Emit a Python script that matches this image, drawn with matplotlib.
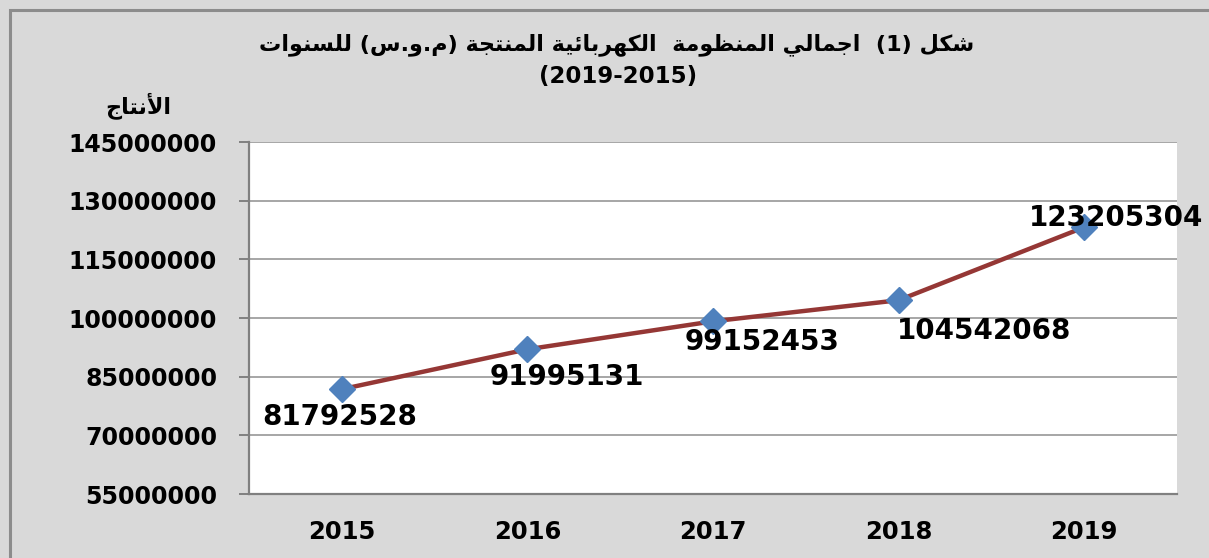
import matplotlib
matplotlib.use("Agg")
import matplotlib.pyplot as plt
from matplotlib.patches import Rectangle

# ---------------- data ----------------
years = ["2015", "2016", "2017", "2018", "2019"]
production = [81792528, 91995131, 99152453, 104542068, 123205304]
y_ticks = [55000000, 70000000, 85000000, 100000000, 115000000, 130000000, 145000000]
title_words = ["شكل", "(1)", "اجمالي", "المنظومة", "الكهربائية", "المنتجة", "(م.و.س)", "للسنوات"]
title_line2 = "(2019-2015)"
y_label = "الأنتاج"

# ---------------- minimal Arabic shaping ----------------
FORMS = {  # isolated, final, initial, medial
    'ا': (0xFE8D, 0xFE8E, None, None),
    'أ': (0xFE83, 0xFE84, None, None),
    'ب': (0xFE8F, 0xFE90, 0xFE91, 0xFE92),
    'ت': (0xFE95, 0xFE96, 0xFE97, 0xFE98),
    'ج': (0xFE9D, 0xFE9E, 0xFE9F, 0xFEA0),
    'ر': (0xFEAD, 0xFEAE, None, None),
    'س': (0xFEB1, 0xFEB2, 0xFEB3, 0xFEB4),
    'ش': (0xFEB5, 0xFEB6, 0xFEB7, 0xFEB8),
    'ظ': (0xFEC5, 0xFEC6, 0xFEC7, 0xFEC8),
    'ك': (0xFED9, 0xFEDA, 0xFEDB, 0xFEDC),
    'ل': (0xFEDD, 0xFEDE, 0xFEDF, 0xFEE0),
    'م': (0xFEE1, 0xFEE2, 0xFEE3, 0xFEE4),
    'ن': (0xFEE5, 0xFEE6, 0xFEE7, 0xFEE8),
    'ه': (0xFEE9, 0xFEEA, 0xFEEB, 0xFEEC),
    'و': (0xFEED, 0xFEEE, None, None),
    'ي': (0xFEF1, 0xFEF2, 0xFEF3, 0xFEF4),
    'ة': (0xFE93, 0xFE94, None, None),
    'ئ': (0xFE89, 0xFE8A, 0xFE8B, 0xFE8C),
    'لا': (0xFEFB, 0xFEFC, None, None),
    'لأ': (0xFEF7, 0xFEF8, None, None),
}


def shape(word):
    units = []
    i = 0
    while i < len(word):
        if word[i] == 'ل' and i + 1 < len(word) and word[i + 1] in 'اأ':
            units.append('ل' + word[i + 1])
            i += 2
        else:
            units.append(word[i])
            i += 1
    out = []
    for k, u in enumerate(units):
        if u not in FORMS:
            out.append(u)
            continue
        iso, fin, ini, med = FORMS[u]
        prev = units[k - 1] if k > 0 else None
        nxt = units[k + 1] if k + 1 < len(units) else None
        joins_prev = prev is not None and prev in FORMS and FORMS[prev][2] is not None
        joins_next = nxt is not None and nxt in FORMS and ini is not None
        if joins_prev and joins_next:
            c = med
        elif joins_prev:
            c = fin
        elif joins_next:
            c = ini
        else:
            c = iso
        out.append(chr(c))
    return "".join(out)[::-1]


def visual_word(w):
    if w.startswith("(") and w.endswith(")"):
        inner = w[1:-1]
        if any(ch in FORMS for ch in inner):
            parts = inner.split(".")
            return "(" + ".".join(shape(p) for p in reversed(parts)) + ")"
        return w
    return shape(w)


vis = [visual_word(w) for w in reversed(title_words)]
title1 = (" ".join(vis[:4]) + "  " + vis[4] + " " + vis[5] + "  "
          + " ".join(vis[6:]))

# ---------------- figure ----------------
BG = "#d9d9d9"
fig = plt.figure(figsize=(12.09, 5.58), dpi=100, facecolor=BG)
W, H = 1209, 558
ax = fig.add_axes([249 / W, 1 - 494 / H, (1177 - 249) / W, (494 - 142) / H])
ax.set_facecolor("white")

x = list(range(len(years)))
ax.plot(x, production, color="#953735", lw=3.2, zorder=3,
        marker="D", markersize=13, markerfacecolor="#4f81bd",
        markeredgecolor="#4f81bd", solid_capstyle="round")

ax.set_xlim(-0.5, len(years) - 0.5)
ax.set_ylim(y_ticks[0], y_ticks[-1])
ax.set_yticks(y_ticks)
ax.set_yticklabels([str(v) for v in y_ticks], fontsize=17, fontweight="bold",
                   family="DejaVu Sans")
ax.set_xticks(x)
ax.set_xticklabels(years, fontsize=17.5, fontweight="bold", family="DejaVu Sans")
ax.grid(axis="y", color="#a6a6a6", lw=1.4)
ax.set_axisbelow(True)
ax.tick_params(axis="y", length=7, width=1.4, color="#808080", pad=16)
ax.tick_params(axis="x", length=0, pad=19)
for s in ("top", "right"):
    ax.spines[s].set_visible(False)
for s in ("left", "bottom"):
    ax.spines[s].set_color("#808080")
    ax.spines[s].set_linewidth(1.6)

offsets = [(-2, -28), (39, -28), (49, -21), (85, -31), (32, 9)]
for xi, v, off in zip(x, production, offsets):
    t = ax.annotate(str(v), (xi, v), xytext=off, textcoords="offset pixels",
                    ha="center", va="center", fontsize=20,
                    family="DejaVu Sans", color="black", zorder=5,
                    annotation_clip=False)
    t.set_fontweight("bold")

fig.text(617 / W, 1 - 45 / H, title1, ha="center", va="center",
         fontsize=16, fontweight="bold", family=["DejaVu Sans"])
fig.text(618 / W, 1 - 77 / H, title_line2, ha="center", va="center",
         fontsize=16.5, fontweight="bold", family="DejaVu Sans")
fig.text(138 / W, 1 - 106 / H, visual_word(y_label), ha="center", va="center",
         fontsize=16, fontweight="bold", family=["DejaVu Sans"])

fig.add_artist(Rectangle((10 / W, -0.05), 1.1, 1 - 10 / H + 0.05,
                         transform=fig.transFigure, fill=False,
                         edgecolor="#8c8c8c", lw=2.2))

fig.savefig("out.png", dpi=100, facecolor=BG)
